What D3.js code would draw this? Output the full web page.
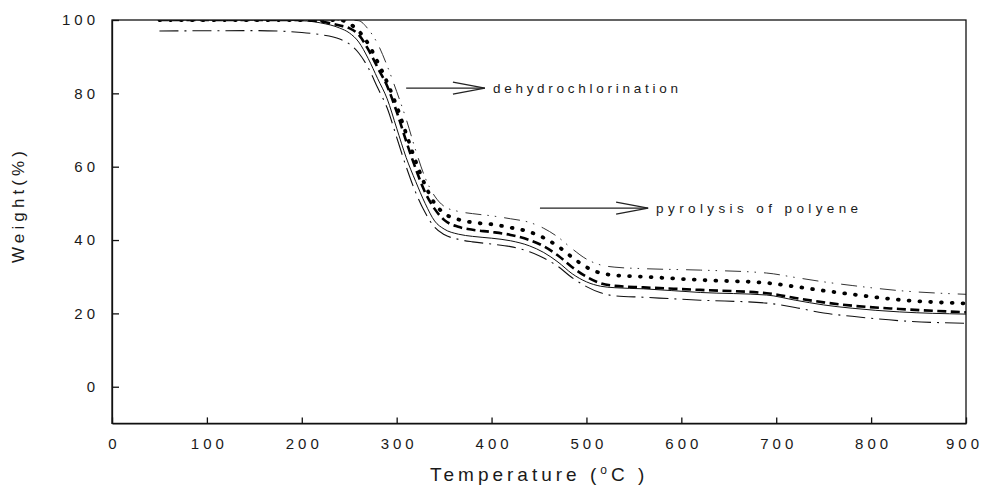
<!DOCTYPE html>
<html><head><meta charset="utf-8">
<script src="https://cdn.jsdelivr.net/npm/d3@7"></script>
<style>body{margin:0;background:#fff}svg{display:block}</style>
</head><body>
<svg id="chart" width="984" height="488"></svg>
<script>
// ---- data ----
const xTicks = [0,100,200,300,400,500,600,700,800,900];
const yTicks = [0,20,40,60,80,100];
const temperature = [50,150,200,220,240,250,260,270,280,290,300,310,320,330,340,350,365,380,400,420,440,455,470,485,500,515,530,560,620,690,720,750,780,830,900];
const weightDashDot = [97,97.1,96.6,96,94.8,93.5,91,87,81.5,76,68,60,53,47.5,43.5,41.5,40.2,39.5,38.9,38.2,36.8,35.1,32.8,29.7,27.3,25.6,24.8,24.4,23.6,22.8,21.6,20.1,19.2,18.0,17.3];
const weightSolid = [100,100,99.8,99.2,97.8,96.5,94,89.5,84,78.5,70.5,62.5,56,50,45.2,43,41.6,41.0,40.5,39.8,38.4,36.6,34,30.8,28.6,27.4,27.0,26.7,25.7,25.0,23.6,22.3,21.4,20.4,19.8];
const weightDashed = [100,100,100,99.6,98.5,97.8,96,92,87,82,75,67,59.5,53,48.5,45.5,43.6,42.8,42.2,41.4,40,38.3,35.8,32.6,30.0,28.2,27.5,27.1,26.4,25.5,24.2,23,22.1,21.2,20.3];
const weightDotted = [100,100,100,100,100,99,97,93.5,88.5,83,76.5,69,61.5,55,50,47.3,45.6,44.8,44.3,43.4,42.2,40.6,38.3,35.3,32.6,31,30.4,30,29.1,28.3,27.3,26.2,25.2,23.7,22.7];
const weightDashDotDot = [100,100,100,100,100,100,99.8,97.5,93.5,87.5,80.5,73,64.5,57,52,49.2,47.8,47.2,46.6,45.8,44.8,43.2,40.8,37.6,34.8,33.2,32.6,32.2,31.8,31.0,29.8,28.6,27.6,26.2,25.2];
const annotationTexts = ["dehydrochlorination","pyrolysis of polyene"];
const annotationFromT = [310,451];
const annotationToT = [393,565];
const annotationW = [81.4,48.7];

// ---- layout ----
const svg = d3.select("#chart");
const x = d3.scaleLinear().domain([0,900]).range([112,966]);
const y = d3.scaleLinear().domain([-10,100]).range([423.4,20]);

const styles = [
  {w: weightDashDot, width:1.1, dash:"19 6 2 6", cap:"butt", color:"#111"},
  {w: weightSolid, width:1, dash:null, cap:"butt", color:"#111"},
  {w: weightDashed, width:2.6, dash:"9 4.5", cap:"butt", color:"#000"},
  {w: weightDotted, width:3.8, dash:"0.8 10", cap:"round", color:"#000"},
  {w: weightDashDotDot, width:1, dash:"16 6 1.5 6 1.5 8", cap:"butt", color:"#333"}
];

svg.append("defs").append("clipPath").attr("id","plotClip").append("rect")
  .attr("x",x(0)).attr("y",y(100)).attr("width",x(900)-x(0)+3).attr("height",y(-10)-y(100));

// curves
const line = d3.line().x(d=>x(d[0])).y(d=>y(d[1])).curve(d3.curveMonotoneX);
const gc = svg.append("g").attr("clip-path","url(#plotClip)");
styles.forEach(s=>{
  const pts = temperature.map((t,i)=>[t,s.w[i]]);
  gc.append("path").attr("d",line(pts)).attr("fill","none")
    .attr("stroke",s.color).attr("stroke-width",s.width)
    .attr("stroke-dasharray",s.dash).attr("stroke-linecap",s.cap);
});

// frame
svg.append("rect").attr("x",x(0)).attr("y",y(100)).attr("width",x(900)-x(0)).attr("height",y(-10)-y(100))
  .attr("fill","none").attr("stroke","#111").attr("stroke-width",1.3);

// axes (ticks inside)
const font = "Arial, 'Liberation Sans', sans-serif";
const xAxis = d3.axisBottom(x).tickValues(xTicks).tickSizeInner(-6).tickSizeOuter(0).tickPadding(13);
const gx = svg.append("g").attr("transform",`translate(0,${y(-10)})`).call(xAxis);
const yAxis = d3.axisLeft(y).tickValues(yTicks).tickSizeInner(-7).tickSizeOuter(0).tickPadding(17);
const gy = svg.append("g").attr("transform",`translate(${x(0)},0)`).call(yAxis);
[gx,gy].forEach(g=>{
  g.select(".domain").attr("stroke","#111").attr("stroke-width",1.3);
  g.selectAll(".tick line").attr("stroke","#111").attr("stroke-width",1.3);
  g.selectAll(".tick text").attr("font-family",font).attr("font-size",15).attr("fill","#1a1a1a")
    .attr("letter-spacing","4px");
});
gx.selectAll(".tick text").attr("dx","2px").attr("dy","0.85em");
gx.selectAll(".tick text").filter(d=>d===900).attr("dx","-2px");
gy.selectAll(".tick text").attr("dx","4px");

// titles
svg.append("text").attr("transform",`translate(24,${y(49)}) rotate(-90)`)
  .attr("text-anchor","middle").attr("font-family",font).attr("font-size",17).attr("fill","#1a1a1a")
  .attr("textLength",112).attr("lengthAdjust","spacing")
  .text("Weight(%)");
const xt = svg.append("text").attr("x",430).attr("y",481).attr("font-family",font).attr("font-size",19)
  .attr("fill","#1a1a1a").attr("letter-spacing","4px");
xt.append("tspan").text("Temperature (");
xt.append("tspan").attr("font-size",12).attr("dy","-7").text("o");
xt.append("tspan").attr("dy","7").text("C )");

// annotations
const annLen = [185,202];
annotationTexts.forEach((t,i)=>{
  const x0=x(annotationFromT[i]), x1=x(annotationToT[i]), yy=y(annotationW[i]);
  svg.append("line").attr("x1",x0).attr("x2",x1).attr("y1",yy).attr("y2",yy)
    .attr("stroke","#222").attr("stroke-width",1.2);
  svg.append("path").attr("d",`M${x1-32},${yy-6}L${x1},${yy}L${x1-32},${yy+6}`)
    .attr("fill","none").attr("stroke","#222").attr("stroke-width",1.2);
  svg.append("text").attr("x",x1+8).attr("y",yy+4.5).attr("font-family",font).attr("font-size",13.5)
    .attr("fill","#1a1a1a").attr("textLength",annLen[i]).attr("lengthAdjust","spacing").text(t);
});
</script>
</body></html>
